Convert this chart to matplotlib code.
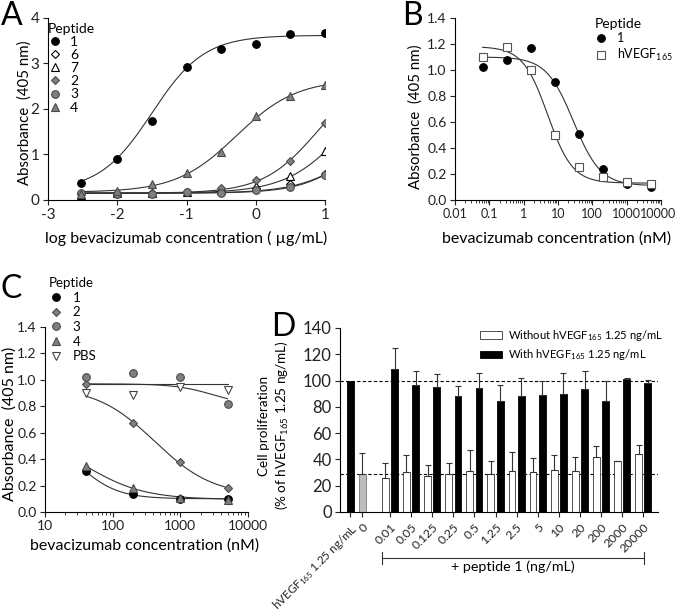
import numpy as np
import matplotlib
matplotlib.use('Agg')
import matplotlib.pyplot as plt
from matplotlib.lines import Line2D
from matplotlib.ticker import LogLocator, NullFormatter, FixedLocator, FixedFormatter
import matplotlib.transforms as mtransforms

plt.rcParams['font.family'] = ['Lato', 'DejaVu Sans']
plt.rcParams['mathtext.fontset'] = 'custom'
plt.rcParams['mathtext.rm'] = 'Lato'
plt.rcParams['mathtext.it'] = 'Lato:italic'
plt.rcParams['mathtext.bf'] = 'Lato:bold'
plt.rcParams['axes.unicode_minus'] = False
plt.rcParams['axes.linewidth'] = 0.8
plt.rcParams['xtick.major.width'] = 0.8
plt.rcParams['ytick.major.width'] = 0.8
plt.rcParams['xtick.minor.width'] = 0.6
plt.rcParams['xtick.major.size'] = 3.5
plt.rcParams['ytick.major.size'] = 3.5
plt.rcParams['xtick.minor.size'] = 2.0
plt.rcParams['xtick.color'] = '#222222'
plt.rcParams['ytick.color'] = '#222222'

# ---------------- Panel A data ----------------
a_logconc = [-2.52, -2.0, -1.5, -1.0, -0.5, 0.0, 0.5, 1.0]
a_pep1 = [0.37, 0.91, 1.73, 2.92, 3.31, 3.42, 3.64, 3.68]
a_pep6 = [0.13, 0.14, 0.15, 0.17, 0.20, 0.27, 0.36, 0.57]
a_pep7 = [0.12, 0.15, 0.16, 0.17, 0.21, 0.31, 0.52, 1.07]
a_pep2 = [0.16, 0.14, 0.15, 0.18, 0.27, 0.44, 0.86, 1.70]
a_pep3 = [0.16, 0.13, 0.13, 0.17, 0.16, 0.21, 0.28, 0.56]
a_pep4 = [0.14, 0.20, 0.35, 0.60, 1.06, 1.85, 2.29, 2.52]
# fitted 4PL curves: bottom, top, logEC50, hill
a_fit1 = [0.20, 3.62, -1.50, 1.15]
a_fit6 = [0.15, 2.20, 1.60, 1.00]
a_fit7 = [0.15, 3.10, 1.35, 1.00]
a_fit2 = [0.15, 2.90, 0.90, 1.10]
a_fit3 = [0.15, 2.00, 1.48, 1.14]
a_fit4 = [0.17, 2.65, -0.28, 1.00]

# ---------------- Panel B data ----------------
b_conc = [0.064, 0.32, 1.6, 8, 40, 200, 1000, 5000]
b_pep1 = [1.02, 1.08, 1.17, 0.91, 0.51, 0.235, 0.125, 0.098]
b_vegf = [1.10, 1.18, 1.00, 0.50, 0.255, 0.175, 0.142, 0.122]
b_fit1 = [0.11, 1.10, 1.45, -1.1]
b_fitv = [0.13, 1.18, 0.70, -1.2]

# ---------------- Panel C data ----------------
c_conc = [40, 200, 1000, 5000]
c_pep1 = [0.31, 0.135, 0.10, 0.097]
c_pep2 = [0.965, 0.67, 0.375, 0.18]
c_pep3 = [1.02, 1.055, 1.02, 0.82]
c_pep4 = [0.345, 0.18, 0.108, 0.092]
c_pbs = [0.90, 0.885, 0.945, 0.92]
c_fit1 = [0.10, 0.60, 1.50, -1.5]
c_fit2 = [0.12, 0.95, 2.62, -1.0]
c_fit3 = [0.80, 0.97, 3.50, -1.5]
c_fit4 = [0.095, 0.60, 1.60, -1.0]
c_fitp = [0.97, 0.97, 2.50, -1.0]

# ---------------- Panel D data ----------------
d_ctrl_labels = ['hVEGF$_{165}$ 1.25 ng/mL', '0']
d_ctrl_values = [100, 29]
d_ctrl_err = [0, 16]
d_doses = ['0.01', '0.05', '0.125', '0.25', '0.5', '1.25', '2.5', '5', '10', '20', '200', '2000', '20000']
d_without = [26.1, 30.6, 27.6, 28.6, 31.4, 28.6, 30.9, 30.1, 31.6, 31.1, 42.0, 38.5, 43.8]
d_without_err = [11, 13, 8.5, 8.5, 15.5, 10.5, 14.5, 11, 11.5, 11, 8, 0.3, 7]
d_with = [108.9, 96.5, 95.2, 88.1, 94.7, 84.6, 88.6, 89.1, 90.1, 93.7, 84.6, 101.3, 98.0]
d_with_err = [16, 11, 10, 7.5, 11, 12, 13.5, 10.5, 15.5, 13.5, 15, 0.3, 2.8]
d_refs = [100, 29]

GREY = '#808080'
GREY_EDGE = '#4a4a4a'
LINE = '#333333'
FS_LEG = 10


def four_pl(x, p):
    b, t, c, h = p
    return b + (t - b) / (1.0 + 10.0 ** ((c - x) * h))


def style_ax(ax, fs):
    for s in ['top', 'right']:
        ax.spines[s].set_visible(False)
    ax.tick_params(direction='out', labelsize=fs, pad=2.5)


fig = plt.figure(figsize=(6.77, 6.12), dpi=100)
W, H = 677.0, 612.0


def axes_px(l, r, t, b):
    return fig.add_axes([l / W, 1 - b / H, (r - l) / W, (b - t) / H])


def msize(mk):
    return 5.5 if mk in ('o', 's') else (4.5 if mk == 'D' else 6)


# ================= Panel A =================
axA = axes_px(48, 325, 18, 200)
style_ax(axA, 11)
seriesA = [
    ('1', a_pep1, a_fit1, 'o', 'black', 'black'),
    ('6', a_pep6, a_fit6, 'D', 'white', 'black'),
    ('7', a_pep7, a_fit7, '^', 'white', 'black'),
    ('2', a_pep2, a_fit2, 'D', GREY, GREY_EDGE),
    ('3', a_pep3, a_fit3, 'o', GREY, GREY_EDGE),
    ('4', a_pep4, a_fit4, '^', GREY, GREY_EDGE),
]
xA = np.linspace(min(a_logconc), max(a_logconc), 300)
handlesA = []
for lab, ys, fit, mk, fc, ec in seriesA:
    axA.plot(xA, four_pl(xA, fit), color=LINE, lw=0.8, zorder=2)
    axA.plot(a_logconc, ys, ls='none', marker=mk, ms=msize(mk), mfc=fc, mec=ec, mew=0.8, zorder=3)
    handlesA.append(Line2D([], [], ls='none', marker=mk, ms=msize(mk), mfc=fc, mec=ec, mew=0.8))
axA.set_xlim(-3, 1)
axA.set_ylim(0, 4)
axA.set_xticks([-3, -2, -1, 0, 1])
axA.set_yticks([0, 1, 2, 3, 4])
axA.set_xlabel('log bevacizumab concentration ( µg/mL)', fontsize=11.5)
axA.set_ylabel('Absorbance  (405 nm)', fontsize=10.8)
axA.xaxis.set_label_coords(0.498, -0.17)
axA.yaxis.set_label_coords(-0.06, 0.48)
axA.legend(handlesA, [s[0] for s in seriesA], title='Peptide', loc='upper left',
           bbox_to_anchor=(0.0, 0.973), frameon=False, fontsize=FS_LEG,
           title_fontsize=FS_LEG, handlelength=1.0, handletextpad=0.6,
           labelspacing=0.08, borderpad=0, borderaxespad=0, alignment='left')

# ================= Panel B =================
axB = axes_px(455, 661, 18, 200)
style_ax(axB, 9)
axB.set_xscale('log')
xB = np.linspace(np.log10(min(b_conc)), np.log10(max(b_conc)), 300)
seriesB = [
    ('1', b_pep1, b_fit1, 'o', 'black', 'black'),
    ('hVEGF$_{165}$', b_vegf, b_fitv, 's', 'white', '#555555'),
]
handlesB = []
for lab, ys, fit, mk, fc, ec in seriesB:
    axB.plot(10 ** xB, four_pl(xB, fit), color=LINE, lw=0.8, zorder=2)
    axB.plot(b_conc, ys, ls='none', marker=mk, ms=msize(mk), mfc=fc, mec=ec, mew=0.8, zorder=3)
    handlesB.append(Line2D([], [], ls='none', marker=mk, ms=msize(mk), mfc=fc, mec=ec, mew=0.8))
axB.set_xlim(0.01, 10000)
axB.set_ylim(0, 1.4)
b_xticks = [0.01, 0.1, 1, 10, 100, 1000, 10000]
b_xticklabels = ['0.01', '0.1', '1', '10', '100', '1000', '10000']
axB.set_xticks(b_xticks)
axB.set_xticklabels(b_xticklabels)
axB.xaxis.set_minor_locator(LogLocator(base=10, subs=np.arange(2, 10), numticks=20))
axB.xaxis.set_minor_formatter(NullFormatter())
axB.set_yticks(np.arange(0, 1.41, 0.2))
axB.set_yticklabels(['%.1f' % v for v in np.arange(0, 1.41, 0.2)])
axB.tick_params(axis='y', labelsize=10)
# keep the last tick label inside the figure edge
last_lab = axB.get_xticklabels()[-1]
last_lab.set_transform(last_lab.get_transform() +
                       mtransforms.ScaledTranslation(-2.5 / 100, 0, fig.dpi_scale_trans))
axB.set_xlabel('bevacizumab concentration (nM)', fontsize=11.5)
axB.set_ylabel('Absorbance  (405 nm)', fontsize=10.8)
axB.xaxis.set_label_coords(0.495, -0.17)
axB.yaxis.set_label_coords(-0.155, 0.46)
axB.legend(handlesB, [s[0] for s in seriesB], title='Peptide', loc='upper left',
           bbox_to_anchor=(0.68, 1.0), frameon=False, fontsize=9,
           title_fontsize=10, handlelength=1.0, handletextpad=0.75,
           labelspacing=0.2, borderpad=0, borderaxespad=0, alignment='left')

# ================= Panel C =================
axC = axes_px(45, 248, 327, 512)
style_ax(axC, 10)
axC.set_xscale('log')
xC = np.linspace(np.log10(min(c_conc)), np.log10(max(c_conc)), 300)
seriesC = [
    ('1', c_pep1, c_fit1, 'o', 'black', 'black'),
    ('2', c_pep2, c_fit2, 'D', GREY, GREY_EDGE),
    ('3', c_pep3, c_fit3, 'o', GREY, GREY_EDGE),
    ('4', c_pep4, c_fit4, '^', GREY, GREY_EDGE),
    ('PBS', c_pbs, c_fitp, 'v', 'white', '#444444'),
]
handlesC = []
for lab, ys, fit, mk, fc, ec in seriesC:
    axC.plot(10 ** xC, four_pl(xC, fit), color=LINE, lw=0.8, zorder=2)
    axC.plot(c_conc, ys, ls='none', marker=mk, ms=msize(mk), mfc=fc, mec=ec, mew=0.8, zorder=3)
    handlesC.append(Line2D([], [], ls='none', marker=mk, ms=msize(mk), mfc=fc, mec=ec, mew=0.8))
axC.set_xlim(10, 10000)
axC.set_ylim(0, 1.4)
axC.xaxis.set_major_locator(FixedLocator([10, 100, 1000, 10000]))
axC.xaxis.set_major_formatter(FixedFormatter(['10', '100', '1000', '10000']))
axC.xaxis.set_minor_locator(LogLocator(base=10, subs=np.arange(2, 10), numticks=20))
axC.xaxis.set_minor_formatter(NullFormatter())
axC.set_yticks(np.arange(0, 1.41, 0.2))
axC.set_yticklabels(['%.1f' % v for v in np.arange(0, 1.41, 0.2)])
axC.set_xlabel('bevacizumab concentration (nM)', fontsize=11.5)
axC.set_ylabel('Absorbance  (405 nm)', fontsize=11.5)
axC.xaxis.set_label_coords(0.49, -0.14)
axC.yaxis.set_label_coords(-0.14, 0.476)
axC.legend(handlesC, [s[0] for s in seriesC], title='Peptide', loc='upper left',
           bbox_to_anchor=(0.02, 1.27), frameon=False, fontsize=9.5,
           title_fontsize=9.5, handlelength=1.0, handletextpad=0.8,
           labelspacing=0.2, borderpad=0, borderaxespad=0, alignment='left')

# ================= Panel D =================
axD = axes_px(340, 658, 328, 512)
style_ax(axD, 12)
ctrl_pos = [0.12, 0.68]
grp_pos = 2 + np.arange(len(d_doses))
bw = 0.32
off = 0.22
for yv in d_refs:
    axD.axhline(yv, color='black', lw=0.8, ls=(0, (3, 2)), zorder=1)
err_kw = dict(ecolor='#333333', elinewidth=0.8, capsize=2.5, capthick=0.8)
axD.bar(ctrl_pos[0], d_ctrl_values[0], width=bw, color='black', edgecolor='black', lw=0.6, zorder=2)
axD.bar(ctrl_pos[1], d_ctrl_values[1], width=bw, color='#bdbdbd', edgecolor='#777777', lw=0.6,
        yerr=[[0], [d_ctrl_err[1]]], error_kw=err_kw, zorder=2)
axD.bar(grp_pos - off, d_without, width=bw, color='white', edgecolor='#333333', lw=0.6,
        yerr=[np.zeros(len(d_without)), d_without_err], error_kw=err_kw, zorder=2,
        label='Without hVEGF$_{165}$ 1.25 ng/mL')
axD.bar(grp_pos + off, d_with, width=bw, color='black', edgecolor='black', lw=0.6,
        yerr=[np.zeros(len(d_with)), d_with_err], error_kw=err_kw, zorder=2,
        label='With hVEGF$_{165}$ 1.25 ng/mL')
axD.set_xlim(-0.37, 14.70)
axD.set_ylim(0, 140)
axD.set_yticks(np.arange(0, 141, 20))
axD.set_xticks(list(ctrl_pos) + list(grp_pos))
axD.set_xticklabels(d_ctrl_labels + d_doses, rotation=45, ha='right', va='top',
                    rotation_mode='anchor', fontsize=8.8)
axD.get_xticklabels()[0].set_fontsize(8.4)
axD.tick_params(axis='x', pad=3.5)
axD.set_ylabel('Cell proliferation\n(% of hVEGF$_{165}$ 1.25 ng/mL)', fontsize=9.7,
               linespacing=1.35)
axD.yaxis.set_label_coords(-0.153, 0.47)
axD.legend(loc='upper left', bbox_to_anchor=(0.44, 1.0), frameon=False, fontsize=8.1,
           handlelength=2.0, handleheight=0.6, handletextpad=0.5, labelspacing=0.4,
           borderpad=0, borderaxespad=0)
# bracket for "+ peptide 1"
trD = mtransforms.blended_transform_factory(axD.transData, axD.transAxes)
x0 = grp_pos[0] - off - bw / 2
x1 = grp_pos[-1] + 0.05
yb = -0.25
axD.plot([x0, x1], [yb, yb], color='#333333', lw=0.8, transform=trD, clip_on=False)
for xx in (x0, x1):
    axD.plot([xx, xx], [yb - 0.032, yb + 0.032], color='#333333', lw=0.8, transform=trD, clip_on=False)
axD.text((x0 + x1) / 2, -0.30, '+ peptide 1 (ng/mL)', transform=trD, ha='center', va='center',
         fontsize=10.3)

# panel letters
for letter, xpx, ypx in [('A', 1, 25), ('B', 402, 25), ('C', 1, 298), ('D', 271, 336)]:
    fig.text(xpx / W, 1 - ypx / H, letter, fontsize=23, ha='left', va='baseline')

fig.savefig('out.png', dpi=100)
